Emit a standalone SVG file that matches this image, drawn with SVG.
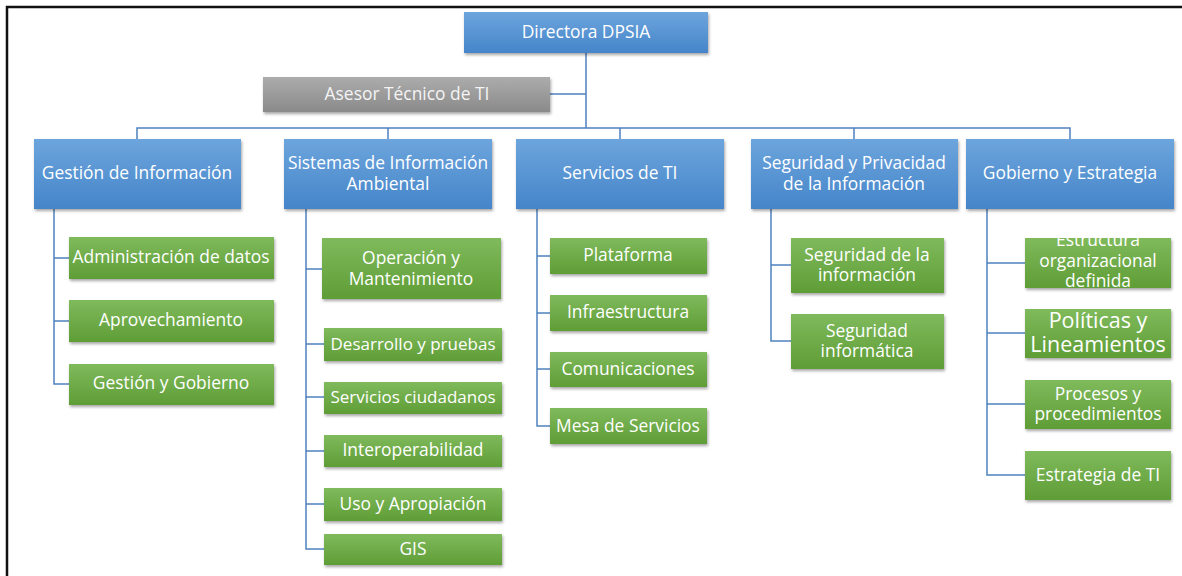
<svg xmlns="http://www.w3.org/2000/svg" width="1182" height="576" viewBox="0 0 1182 576">
<defs>
<linearGradient id="gBlue" x1="0" y1="0" x2="0" y2="1"><stop offset="0" stop-color="#6da5dd"/><stop offset="1" stop-color="#4585c9"/></linearGradient>
<linearGradient id="gGreen" x1="0" y1="0" x2="0" y2="1"><stop offset="0" stop-color="#7fba5c"/><stop offset="1" stop-color="#5f9d36"/></linearGradient>
<linearGradient id="gGray" x1="0" y1="0" x2="0" y2="1"><stop offset="0" stop-color="#acacac"/><stop offset="1" stop-color="#8a8a8a"/></linearGradient>
<filter id="sh" x="-10%" y="-10%" width="120%" height="140%"><feDropShadow dx="1" dy="2" stdDeviation="1.5" flood-color="#000" flood-opacity="0.35"/></filter>
<style>
.b{fill:url(#gBlue);filter:url(#sh)}
.g{fill:url(#gGreen);filter:url(#sh)}
.y{fill:url(#gGray);filter:url(#sh)}
text{font-family:"Open Sans","Noto Sans",sans-serif;font-size:17.4px;fill:#ffffff;text-anchor:middle}
.gt{fill:#f4f4f4}
.sm{font-size:17px}
.big{font-size:21.5px}
.c{fill:none;stroke:#4f81bd;stroke-width:1.5}
</style>
</defs>
<rect x="0" y="0" width="1182" height="576" fill="#ffffff"/>
<path d="M7 576 V7 H1182" fill="none" stroke="#111" stroke-width="2.5"/>
<g id="connectors">
<path class="c" d="M586 53 V128 M550 94 H586 M137 139 V128 H1070 V139 M388 128 V139 M620 128 V139 M854 128 V139"/>
<path class="c" d="M54 209 V384 H69 M54 258 H69 M54 321 H69"/>
<path class="c" d="M306 209 V549 H324 M306 269 H322 M306 344 H324 M306 397 H324 M306 451 H324 M306 504 H324"/>
<path class="c" d="M537 209 V426 H550 M537 256 H550 M537 313 H550 M537 369 H550"/>
<path class="c" d="M771 209 V341 H791 M771 265 H791"/>
<path class="c" d="M987 209 V475 H1025 M987 263 H1025 M987 333 H1025 M987 404 H1025"/>
</g>
<g id="n-directora"><rect class="b" x="464" y="12" width="244" height="41"/><text x="586" y="38">Directora DPSIA</text></g>
<g id="n-asesor"><rect class="y" x="263" y="77" width="287" height="35"/><text class="gt" x="407" y="100">Asesor Técnico de TI</text></g>
<g id="n-gestion"><rect class="b" x="34" y="139" width="207" height="70"/><text x="137" y="179">Gestión de Información</text></g>
<g id="n-sistemas"><rect class="b" x="284" y="139" width="208" height="70"/><text x="388" y="169">Sistemas de Información<tspan x="388" dy="21">Ambiental</tspan></text></g>
<g id="n-servicios"><rect class="b" x="516" y="139" width="208" height="70"/><text x="620" y="179">Servicios de TI</text></g>
<g id="n-seguridad"><rect class="b" x="751" y="139" width="207" height="70"/><text x="854" y="169">Seguridad y Privacidad<tspan x="854" dy="21">de la Información</tspan></text></g>
<g id="n-gobierno"><rect class="b" x="966" y="139" width="208" height="70"/><text x="1070" y="179">Gobierno y Estrategia</text></g>
<g id="n-admin"><rect class="g" x="69" y="237" width="205" height="42"/><text x="171" y="263">Administración de datos</text></g>
<g id="n-aprov"><rect class="g" x="69" y="300" width="205" height="42"/><text x="171" y="326">Aprovechamiento</text></g>
<g id="n-gygob"><rect class="g" x="69" y="364" width="205" height="41"/><text x="171" y="389">Gestión y Gobierno</text></g>
<g id="n-operacion"><rect class="g" x="322" y="238" width="179" height="61"/><text x="411" y="264">Operación y<tspan x="411" dy="21">Mantenimiento</tspan></text></g>
<g id="n-desarrollo"><rect class="g" x="324" y="328" width="178" height="33"/><text class="sm" x="413" y="350">Desarrollo y pruebas</text></g>
<g id="n-ciudadanos"><rect class="g" x="324" y="382" width="178" height="32"/><text class="sm" x="413" y="403">Servicios ciudadanos</text></g>
<g id="n-interop"><rect class="g" x="324" y="435" width="178" height="32"/><text x="413" y="456">Interoperabilidad</text></g>
<g id="n-uso"><rect class="g" x="324" y="488" width="178" height="33"/><text x="413" y="510">Uso y Apropiación</text></g>
<g id="n-gis"><rect class="g" x="324" y="534" width="178" height="31"/><text x="413" y="555">GIS</text></g>
<g id="n-plataforma"><rect class="g" x="550" y="238" width="157" height="36"/><text x="628" y="261">Plataforma</text></g>
<g id="n-infra"><rect class="g" x="550" y="295" width="157" height="36"/><text x="628" y="318">Infraestructura</text></g>
<g id="n-comunic"><rect class="g" x="550" y="352" width="157" height="35"/><text x="628" y="375">Comunicaciones</text></g>
<g id="n-mesa"><rect class="g" x="550" y="408" width="157" height="36"/><text x="628" y="432">Mesa de Servicios</text></g>
<g id="n-seginfo"><rect class="g" x="791" y="238" width="153" height="55"/><text x="867" y="261">Seguridad de la<tspan x="867" dy="20">información</tspan></text></g>
<g id="n-seginfor"><rect class="g" x="791" y="314" width="153" height="55"/><text x="867" y="337">Seguridad<tspan x="867" dy="20">informática</tspan></text></g>
<g id="n-estructura"><rect class="g" x="1025" y="238" width="146" height="50"/><text x="1098" y="246">Estructura<tspan x="1098" dy="21">organizacional</tspan><tspan x="1098" dy="20">definida</tspan></text></g>
<g id="n-politicas"><rect class="g" x="1025" y="309" width="146" height="49"/><text class="big" x="1098" y="328">Políticas y<tspan x="1098" dy="24">Lineamientos</tspan></text></g>
<g id="n-procesos"><rect class="g" x="1025" y="380" width="146" height="49"/><text x="1098" y="400">Procesos y<tspan x="1098" dy="20">procedimientos</tspan></text></g>
<g id="n-estrategia"><rect class="g" x="1025" y="451" width="146" height="49"/><text x="1098" y="481">Estrategia de TI</text></g>
</svg>
